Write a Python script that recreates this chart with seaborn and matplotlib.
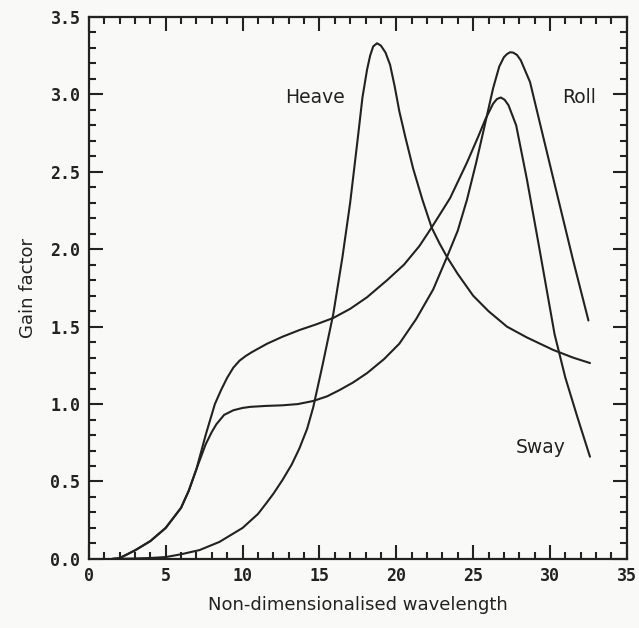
import numpy as np
import pandas as pd
import matplotlib
matplotlib.use("Agg")
import matplotlib.pyplot as plt
import seaborn as sns
from matplotlib.ticker import MultipleLocator

# valores
heave_x = [1.8, 3.0, 4.0, 5.0, 6.0, 7.2, 8.5, 10.0, 11.0, 11.5, 12.0, 12.6, 13.2, 13.7,
           14.2, 14.6, 15.2, 15.9, 16.5, 17.0, 17.5, 17.8, 18.1, 18.3, 18.5, 18.75,
           19.0, 19.3, 19.6, 19.9, 20.2, 20.6, 21.1, 21.7, 22.3, 22.8, 23.3, 24.0,
           25.0, 26.0, 27.2, 28.5, 30.2, 31.5, 32.6]
heave_y = [0.0, 0.003, 0.006, 0.012, 0.03, 0.057, 0.11, 0.2, 0.29, 0.354, 0.42, 0.51,
           0.61, 0.714, 0.84, 0.98, 1.25, 1.58, 1.95, 2.3, 2.72, 2.98, 3.16, 3.25,
           3.31, 3.33, 3.315, 3.27, 3.19, 3.05, 2.89, 2.72, 2.52, 2.32, 2.14, 2.04,
           1.95, 1.84, 1.7, 1.6, 1.5, 1.43, 1.35, 1.3, 1.265]

sway_x = [1.5, 2.0, 3.0, 4.0, 5.0, 6.0, 6.5, 7.0, 7.6, 8.2, 8.6, 9.0, 9.4, 9.8,
          10.2, 10.6, 11.6, 12.6, 13.7, 14.8, 15.9, 17.0, 18.1, 19.4, 20.5, 21.5,
          22.3, 23.5, 24.6, 25.3, 25.8, 26.3, 26.55, 26.8, 27.05, 27.3, 27.8, 28.5,
          29.3, 30.3, 31.0, 31.8, 32.6]
sway_y = [0.0, 0.005, 0.055, 0.115, 0.2, 0.33, 0.44, 0.58, 0.8, 1.0, 1.09, 1.17,
          1.235, 1.28, 1.31, 1.335, 1.39, 1.435, 1.478, 1.515, 1.556, 1.615, 1.69,
          1.8, 1.9, 2.02, 2.14, 2.33, 2.56, 2.72, 2.84, 2.94, 2.97, 2.98, 2.965,
          2.93, 2.8, 2.45, 2.01, 1.45, 1.17, 0.91, 0.66]

roll_x = [1.5, 2.0, 3.0, 4.0, 5.0, 6.0, 6.5, 7.0, 7.3, 7.6, 8.0, 8.3, 8.8, 9.4,
          10.0, 10.5, 11.5, 12.6, 13.6, 14.6, 15.5, 16.3, 17.2, 18.1, 19.2, 20.2,
          21.3, 22.4, 23.3, 24.0, 24.6, 25.2, 25.8, 26.3, 26.7, 27.0, 27.2, 27.4,
          27.6, 27.85, 28.1, 28.7, 29.5, 30.4, 31.5, 32.5]
roll_y = [0.0, 0.005, 0.055, 0.115, 0.2, 0.33, 0.44, 0.58, 0.66, 0.74, 0.82, 0.87,
          0.93, 0.96, 0.975, 0.982, 0.988, 0.992, 1.0, 1.02, 1.05, 1.09, 1.14, 1.2,
          1.29, 1.39, 1.55, 1.74, 1.95, 2.12, 2.32, 2.56, 2.82, 3.04, 3.18, 3.24,
          3.26, 3.272, 3.27, 3.255, 3.22, 3.08, 2.75, 2.38, 1.93, 1.54]

curvas = ["Heave", "Sway", "Roll"]

df = pd.concat([
    pd.DataFrame({"x": heave_x, "y": heave_y, "curva": "Heave"}),
    pd.DataFrame({"x": sway_x, "y": sway_y, "curva": "Sway"}),
    pd.DataFrame({"x": roll_x, "y": roll_y, "curva": "Roll"}),
])

sns.set_style("ticks")
plt.rcParams['font.family'] = ['DejaVu Sans']

fig = plt.figure(figsize=(6.39, 6.28), dpi=100, facecolor="#f9f9f7")
ax = fig.add_axes([0.139, 0.110, 0.842, 0.863])
ax.set_facecolor("#f9f9f7")

for c in curvas:
    sns.lineplot(data=df[df["curva"] == c], x="x", y="y", color="#222222",
                 linewidth=1.5, sort=False, estimator=None, ax=ax)

ax.set_xlim(0, 35)
ax.set_ylim(0, 3.5)
ax.xaxis.set_major_locator(MultipleLocator(5))
ax.xaxis.set_minor_locator(MultipleLocator(1))
ax.yaxis.set_major_locator(MultipleLocator(0.5))
ax.yaxis.set_minor_locator(MultipleLocator(0.1))
ax.yaxis.set_major_formatter(matplotlib.ticker.FormatStrFormatter("%.1f"))

ax.tick_params(which="both", direction="in", top=True, right=True, width=1.5,
               color="#222222")
ax.tick_params(which="major", length=10, pad=6)
ax.tick_params(which="minor", length=5)
for lab in ax.get_xticklabels() + ax.get_yticklabels():
    lab.set_family("DejaVu Sans Mono")
    lab.set_fontweight("bold")
    lab.set_fontsize(12)
    lab.set_color("#222222")

for s in ax.spines.values():
    s.set_linewidth(1.6)
    s.set_color("#222222")

ax.set_xlabel("Non-dimensionalised wavelength", fontsize=13, color="#222222",
              labelpad=8)
ax.set_ylabel("Gain factor", fontsize=13, color="#222222", labelpad=10)

ax.text(14.7, 2.98, "Heave", fontsize=13.5, ha="center", va="center", color="#222222")
ax.text(31.9, 2.98, "Roll", fontsize=13.5, ha="center", va="center", color="#222222")
ax.text(29.4, 0.72, "Sway", fontsize=13.5, ha="center", va="center", color="#222222")

fig.savefig("out.png", dpi=100, facecolor=fig.get_facecolor())
